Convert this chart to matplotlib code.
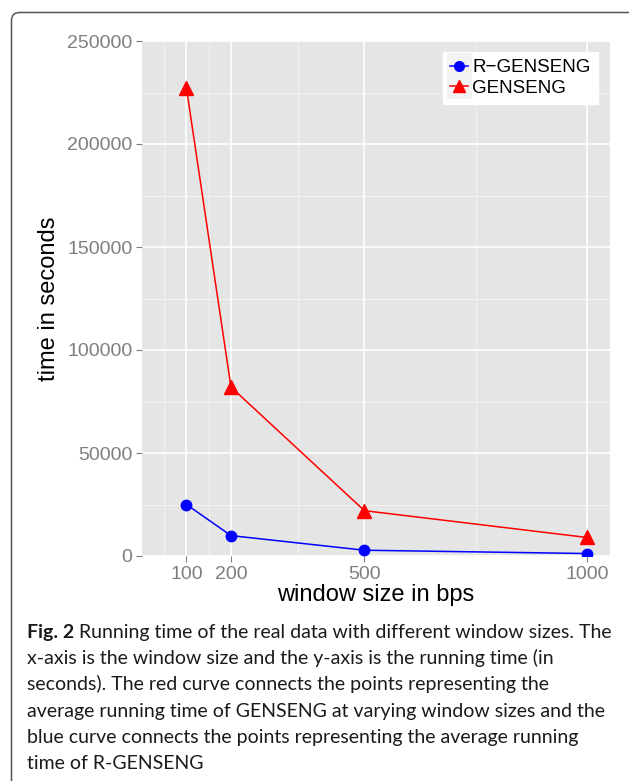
import matplotlib
matplotlib.use("Agg")
import matplotlib.pyplot as plt
from matplotlib.patches import FancyBboxPatch, Rectangle
from matplotlib.lines import Line2D
from matplotlib.transforms import IdentityTransform
from matplotlib.legend_handler import HandlerLine2D

# ---- data ----
window_sizes = [100, 200, 500, 1000]
r_genseng = [25000, 9900, 2800, 1200]
genseng = [227000, 82000, 22000, 9000]
series_names = ["R\u2212GENSENG", "GENSENG"]
x_ticks = [100, 200, 500, 1000]
x_minor = [50, 150, 350, 750]
y_ticks = [0, 50000, 100000, 150000, 200000, 250000]
y_minor = [25000, 75000, 125000, 175000, 225000]
caption_lines = [
    " Running time of the real data with different window sizes. The",
    "x-axis is the window size and the y-axis is the running time (in",
    "seconds). The red curve connects the points representing the",
    "average running time of GENSENG at varying window sizes and the",
    "blue curve connects the points representing the average running",
    "time of R-GENSENG",
]

W, H = 629, 781
DPI = 100
fig = plt.figure(figsize=(W / DPI, H / DPI), dpi=DPI)
fig.patch.set_facecolor("white")

# rounded border (pixel coordinates, origin bottom-left)
border = FancyBboxPatch((11.5, -50), 800, (H - 12.5) + 50,
                        boxstyle="round,pad=0,rounding_size=8",
                        transform=IdentityTransform(), fill=False,
                        edgecolor="#555555", linewidth=1.1, clip_on=False)
fig.patches.append(border)

# panel
pl, pr, pt, pb = 142, 610, 41, 556
ax = fig.add_axes([pl / W, (H - pb) / H, (pr - pl) / W, (pb - pt) / H])
ax.set_facecolor("#E5E5E5")
for s in ax.spines.values():
    s.set_visible(False)
ax.set_xlim(0, 1052)
ax.set_ylim(0, 250000)

for v in x_minor:
    ax.axvline(v, color="#F2F2F2", lw=0.8, zorder=0.5)
for v in y_minor:
    ax.axhline(v, color="#F2F2F2", lw=0.8, zorder=0.5)
for v in x_ticks:
    ax.axvline(v, color="white", lw=1.2, zorder=0.6)
for v in y_ticks:
    ax.axhline(v, color="white", lw=1.2, zorder=0.6)

ax.plot(window_sizes, r_genseng, color="blue", lw=1.1, marker="o",
        markersize=7.5, label=series_names[0], zorder=3)
ax.plot(window_sizes, genseng, color="red", lw=1.1, marker="^",
        markersize=9.5, label=series_names[1], zorder=3)

ax.set_xticks(x_ticks)
ax.set_xticklabels([str(v) for v in x_ticks])
ax.set_yticks(y_ticks)
ax.set_yticklabels([str(v) for v in y_ticks])
ax.tick_params(axis="both", colors="#7F7F7F", labelcolor="#7F7F7F",
               labelsize=14, length=4, width=0.8, pad=3)
for lab in ax.get_xticklabels() + ax.get_yticklabels():
    lab.set_family("Liberation Sans")

ax.set_xlabel("window size in bps", fontsize=17, family="Liberation Sans",
              color="black", labelpad=1)
ax.set_ylabel("time in seconds", fontsize=17, family="Liberation Sans",
              color="black", labelpad=5)


class KeyHandler(HandlerLine2D):
    def create_artists(self, legend, orig_handle, xdescent, ydescent,
                       width, height, fontsize, trans):
        arts = super().create_artists(legend, orig_handle, xdescent, ydescent,
                                      width, height, fontsize, trans)
        for a in arts:
            if isinstance(a, Line2D) and a.get_marker() not in (None, "None", ""):
                a.set_markersize(7 if a.get_marker() == "o" else 9)
        side = 18
        cy = -ydescent + height / 2
        bg = Rectangle((-xdescent + (width - side) / 2, cy - side / 2),
                       side, side, facecolor="#F2F2F2", edgecolor="none",
                       transform=trans)
        return [bg] + arts


leg = ax.legend(loc="upper right", bbox_to_anchor=(0.974, 0.979),
                frameon=True, fancybox=False, framealpha=1,
                edgecolor="white", facecolor="white",
                prop={"family": "Liberation Sans", "size": 13.5},
                handlelength=0.96, handletextpad=0.22, labelspacing=0.18,
                borderpad=0.38, borderaxespad=0,
                handler_map={Line2D: KeyHandler()})

# caption
cap_font = {"family": "Lato", "size": 14.0, "color": "#1a1a1a"}
base0 = 638
step = 26.2
x0 = 27
t_bold = fig.text(x0 / W, 1 - base0 / H, "Fig. 2", fontweight="bold",
                  va="baseline", ha="left", **cap_font)
fig.canvas.draw()
bb = t_bold.get_window_extent()
fig.text(bb.x1 / W, 1 - base0 / H, caption_lines[0], va="baseline",
         ha="left", **cap_font)
for i, line in enumerate(caption_lines[1:], start=1):
    fig.text(x0 / W, 1 - (base0 + i * step) / H, line, va="baseline",
             ha="left", **cap_font)

fig.savefig("out.png", dpi=DPI)
